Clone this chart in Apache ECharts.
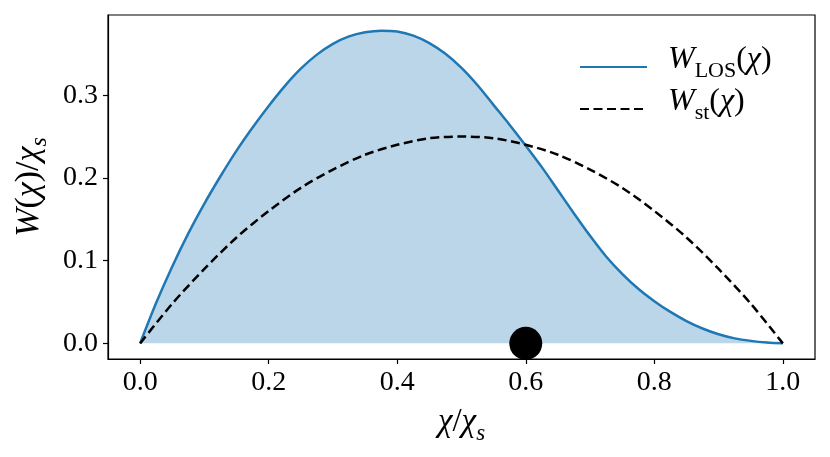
<!DOCTYPE html>
<html>
<head>
<meta charset="utf-8">
<script src="https://cdn.jsdelivr.net/npm/echarts@6/dist/echarts.min.js"></script>
<style>
  html, body { margin: 0; padding: 0; background: #fff; }
  #chart { width: 830px; height: 457px; }
</style>
</head>
<body>
<div id="chart"></div>
<script>
// chi / chi_s positions
var losX = [0, 0.025, 0.05, 0.075, 0.1, 0.125, 0.15, 0.175, 0.2, 0.225, 0.25, 0.275, 0.3, 0.325,
            0.35, 0.375, 0.4, 0.425, 0.45, 0.475, 0.5, 0.525, 0.55, 0.575, 0.6, 0.625, 0.65,
            0.675, 0.7, 0.725, 0.75, 0.775, 0.8, 0.825, 0.85, 0.875, 0.9, 0.925, 0.95, 0.975, 1.0];
var losY = [0, 0.049, 0.093, 0.133, 0.169, 0.202, 0.233, 0.261, 0.287, 0.311, 0.332, 0.349, 0.362, 0.371,
            0.376, 0.378, 0.377, 0.372, 0.363, 0.350, 0.333, 0.312, 0.288, 0.264, 0.239, 0.213, 0.185,
            0.157, 0.130, 0.105, 0.084, 0.066, 0.051, 0.038, 0.027, 0.018, 0.011, 0.006, 0.003, 0.001, 0];
var stX = [0, 0.05, 0.1, 0.15, 0.2, 0.25, 0.3, 0.35, 0.4, 0.45, 0.5,
           0.55, 0.6, 0.65, 0.7, 0.75, 0.8, 0.85, 0.9, 0.95, 1.0];
var stY = [0, 0.048, 0.09, 0.128, 0.16, 0.188, 0.21, 0.228, 0.24, 0.248, 0.25,
           0.248, 0.24, 0.228, 0.21, 0.188, 0.16, 0.128, 0.09, 0.048, 0];
var dotPoint = [0.6, 0];
var xTicks = [0, 0.2, 0.4, 0.6, 0.8, 1.0];
var yTicks = [0, 0.1, 0.2, 0.3];

var serif = "Liberation Serif";

function mathRich(big, small, lh) {
  return {
    i: { fontFamily: serif, fontStyle: "italic", fontSize: big, lineHeight: lh, color: "#000", verticalAlign: "bottom", padding: [0, 0, 6, 0] },
    n: { fontFamily: serif, fontSize: big, lineHeight: lh, color: "#000", verticalAlign: "bottom", padding: [0, 0, 6, 0] },
    s: { fontFamily: serif, fontStyle: "italic", fontSize: small, lineHeight: small, color: "#000", verticalAlign: "bottom" },
    u: { fontFamily: serif, fontSize: small, lineHeight: small, color: "#000", verticalAlign: "bottom" },
    g: { width: 16 }
  };
}

function pairs(xs, ys) {
  var out = [];
  for (var i = 0; i < xs.length; i++) out.push([xs[i], ys[i]]);
  return out;
}

var chart = echarts.init(document.getElementById("chart"));
chart.setOption({
  animation: false,
  grid: {
    left: 108, right: 15, top: 15, bottom: 98,
    show: true, borderColor: "#000", borderWidth: 1.2
  },
  legend: {
    orient: "vertical",
    left: 574,
    top: 39,
    padding: 5,
    itemWidth: 67,
    itemHeight: 14,
    itemGap: 4,
    data: ["los", "st"],
    itemStyle: { opacity: 0 },
    formatter: function (name) {
      if (name === "los") return "{g|}{i|W}{u|LOS}{n|(}{i|χ}{n|)}";
      return "{g|}{i|W}{u|st}{n|(}{i|χ}{n|)}";
    },
    textStyle: { rich: mathRich(32, 22, 30) }
  },
  xAxis: {
    type: "value",
    min: -0.05,
    max: 1.05,
    splitLine: { show: false },
    axisLine: { onZero: false, lineStyle: { color: "#000", width: 1.2 } },
    axisTick: { customValues: xTicks, length: 5, lineStyle: { color: "#000", width: 1.2 } },
    axisLabel: {
      customValues: xTicks,
      margin: 10,
      fontFamily: serif, fontSize: 28, color: "#000",
      formatter: function (v) { return v.toFixed(1); }
    },
    name: "{i|χ}{n|/}{i|χ}{s|s}",
    nameLocation: "middle",
    nameGap: 54,
    nameTextStyle: { rich: mathRich(33, 23, 32) }
  },
  yAxis: {
    type: "value",
    min: -0.0189,
    max: 0.3969,
    splitLine: { show: false },
    axisLine: { show: true, onZero: false, lineStyle: { color: "#000", width: 1.2 } },
    axisTick: { show: true, customValues: yTicks, length: 5, lineStyle: { color: "#000", width: 1.2 } },
    axisLabel: {
      customValues: yTicks,
      margin: 10,
      fontFamily: serif, fontSize: 28, color: "#000",
      formatter: function (v) { return v.toFixed(1); }
    },
    name: "{i|W}{n|(}{i|χ}{n|)/}{i|χ}{s|s}",
    nameLocation: "middle",
    nameRotate: 90,
    nameGap: 56,
    nameTextStyle: { rich: mathRich(34, 24, 32) }
  },
  series: [
    {
      name: "los",
      type: "line",
      data: pairs(losX, losY),
      smooth: 0.3,
      symbol: "none",
      lineStyle: { color: "#1f77b4", width: 2.5 },
      itemStyle: { color: "#1f77b4" },
      areaStyle: { color: "#1f77b4", opacity: 0.3, origin: 0 },
      z: 2
    },
    {
      name: "st",
      type: "line",
      data: pairs(stX, stY),
      smooth: 0.3,
      symbol: "none",
      lineStyle: { color: "#000", width: 2.5, type: [9, 4.5] },
      itemStyle: { color: "#000" },
      z: 3
    },
    {
      type: "scatter",
      data: [dotPoint],
      symbolSize: 33,
      itemStyle: { color: "#000", opacity: 1 },
      z: 4
    }
  ]
});
</script>
</body>
</html>
